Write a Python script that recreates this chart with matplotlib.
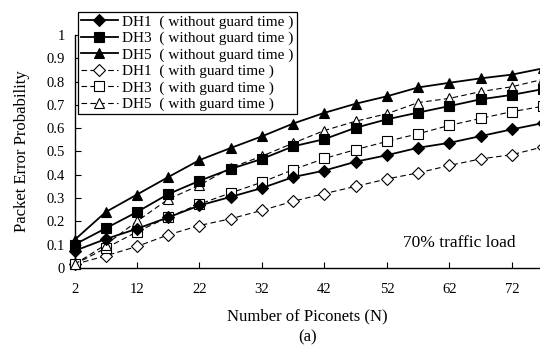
import matplotlib
matplotlib.use("Agg")
import matplotlib.pyplot as plt

plt.rcParams["font.family"] = ["Liberation Serif", "DejaVu Serif"]

# number of piconets
n_piconets = [2, 7, 12, 17, 22, 27, 32, 37, 42, 47, 52, 57, 62, 67, 72, 77]

# packet error probability
dh1_no_guard = [0.073, 0.124, 0.168, 0.217, 0.268, 0.305, 0.343, 0.39, 0.418, 0.456,
                0.484, 0.516, 0.537, 0.566, 0.595, 0.622]
dh3_no_guard = [0.10, 0.17, 0.24, 0.317, 0.374, 0.425, 0.468, 0.522, 0.553, 0.602,
                0.638, 0.667, 0.695, 0.724, 0.743, 0.768]
dh5_no_guard = [0.12, 0.24, 0.315, 0.39, 0.463, 0.515, 0.565, 0.62, 0.666, 0.705,
                0.737, 0.775, 0.795, 0.814, 0.83, 0.857]
dh1_guard = [0.015, 0.052, 0.092, 0.142, 0.182, 0.211, 0.247, 0.286, 0.319, 0.35,
             0.382, 0.408, 0.44, 0.468, 0.486, 0.52]
dh3_guard = [0.015, 0.085, 0.155, 0.218, 0.274, 0.322, 0.368, 0.422, 0.47, 0.508,
             0.543, 0.576, 0.612, 0.642, 0.671, 0.694]
dh5_guard = [0.015, 0.10, 0.20, 0.295, 0.355, 0.43, 0.48, 0.536, 0.59, 0.63,
             0.662, 0.71, 0.728, 0.757, 0.778, 0.81]

labels = [
    "DH1  ( without guard time )",
    "DH3  ( without guard time )",
    "DH5  ( without guard time )",
    "DH1  ( with guard time )",
    "DH3  ( with guard time )",
    "DH5  ( with guard time )",
]
x_ticks = [2, 12, 22, 32, 42, 52, 62, 72]
y_ticks = [0, 0.1, 0.2, 0.3, 0.4, 0.5, 0.6, 0.7, 0.8, 0.9, 1.0]
y_tick_labels = ["0", "0.1", "0.2", "0.3", "0.4", "0.5", "0.6", "0.7", "0.8", "0.9", "1"]

fig = plt.figure(figsize=(5.4, 3.47), dpi=100)
ax = fig.add_axes([0.138, 0.228, 0.862, 0.671])

series = [dh1_no_guard, dh3_no_guard, dh5_no_guard, dh1_guard, dh3_guard, dh5_guard]
markers = ["D", "s", "^", "D", "s", "^"]
sizes = [6, 7, 7.5, 6, 7, 7.5]
for i, (ys, m, ms, lab) in enumerate(zip(series, markers, sizes, labels)):
    guard = i >= 3
    ax.plot(n_piconets, ys, color="black",
            linestyle=(0, (5, 3)) if guard else "-",
            linewidth=0.8 if guard else 1.3,
            marker=m, markersize=ms,
            markerfacecolor="white" if guard else "black",
            markeredgecolor="black", markeredgewidth=0.8,
            label=lab, clip_on=False, zorder=3 + (0 if guard else 1))

ax.set_xlim(2, 76.5)
ax.set_ylim(0, 1)
ax.set_xticks(x_ticks)
ax.set_yticks(y_ticks)
ax.set_yticklabels(y_tick_labels)
ax.tick_params(direction="in", length=4, width=0.8, labelsize=10.5)
ax.tick_params(axis="x", pad=11)
ax.tick_params(axis="y", pad=7)
for side in ("top", "right"):
    ax.spines[side].set_visible(False)
for side in ("left", "bottom"):
    ax.spines[side].set_linewidth(1.0)

ax.set_xlabel("Number of Piconets (N)\n(a)", fontsize=12, labelpad=9, linespacing=1.4)
ax.set_ylabel("Packet Error Probability", fontsize=12, labelpad=12)
ax.text(54.6, 0.108, "70% traffic load", fontsize=12.5, va="center", ha="left")

leg = ax.legend(loc="upper left", bbox_to_anchor=(0.1444, 0.9654),
                bbox_transform=fig.transFigure, borderaxespad=0,
                fontsize=11, frameon=True, fancybox=False, framealpha=1,
                edgecolor="black", handlelength=2.4, handletextpad=0.3,
                labelspacing=0.17, borderpad=0.2)
leg.get_frame().set_linewidth(0.9)
leg.set_zorder(10)

fig.savefig("out.png", dpi=100)
